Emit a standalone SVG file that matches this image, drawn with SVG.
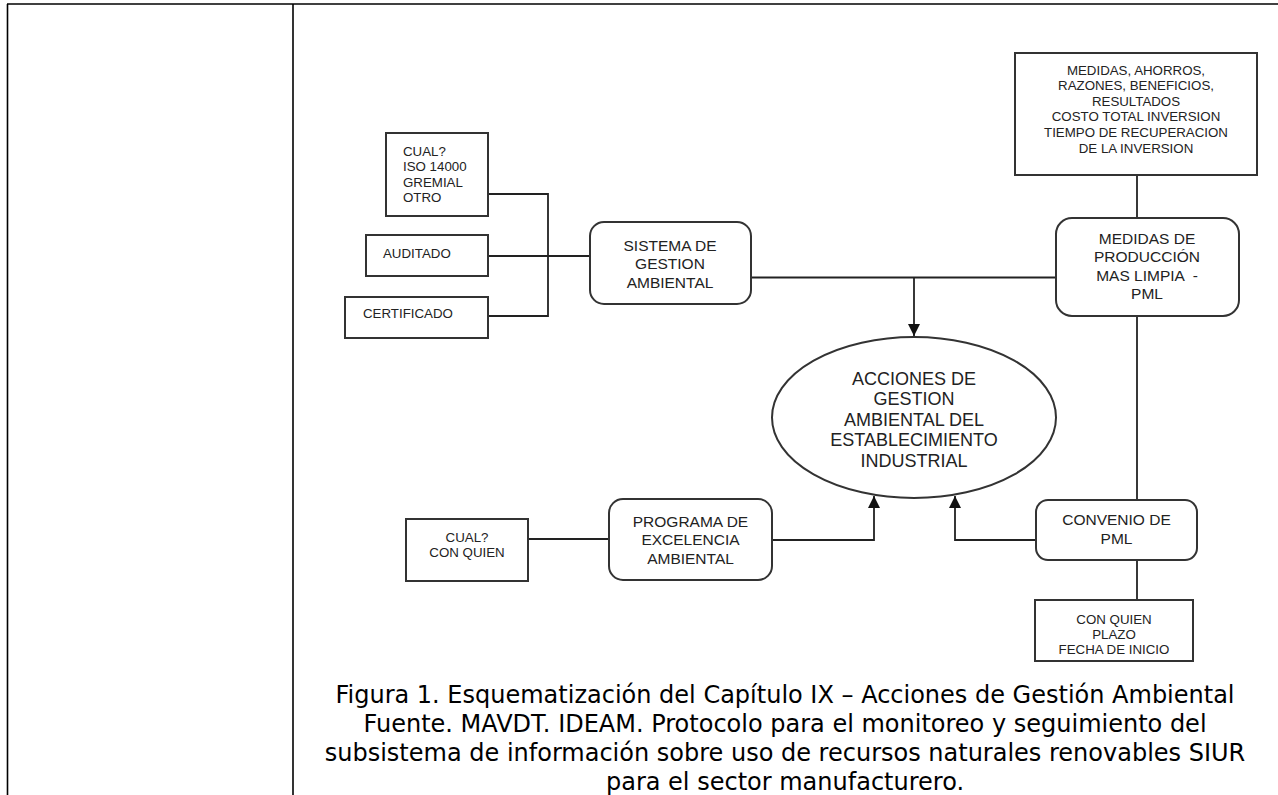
<svg xmlns="http://www.w3.org/2000/svg" width="1278" height="795" viewBox="0 0 1278 795">
<defs>
<marker id="arr" markerWidth="12" markerHeight="12" refX="12" refY="6" orient="auto" markerUnits="userSpaceOnUse">
<path d="M0,0 L12,6 L0,12 Z" fill="#111"/>
</marker>
<style>
.tbl{stroke:#000;stroke-width:1.6;fill:none}
.box{fill:#fff;stroke:#333;stroke-width:2}
.ln{fill:none;stroke:#222;stroke-width:1.8}
.s{font-family:"Liberation Sans",Arial,sans-serif;font-size:13.3px;fill:#222}
.m{font-family:"Liberation Sans",Arial,sans-serif;font-size:15.5px;fill:#222}
.l{font-family:"Liberation Sans",Arial,sans-serif;font-size:18px;fill:#222}
.c{text-anchor:middle}
.cap{font-family:"DejaVu Sans",Verdana,sans-serif;font-size:24px;fill:#000;text-anchor:middle}
</style>
</defs>
<rect width="1278" height="795" fill="#fff"/>
<g id="table">
<line class="tbl" x1="7" y1="4" x2="1278" y2="4"/>
<line class="tbl" x1="7.5" y1="4" x2="7.5" y2="795"/>
<line class="tbl" x1="293" y1="4" x2="293" y2="795"/>
</g>
<g id="connectors">
<polyline class="ln" points="488,194 548,194 548,316 488,316"/>
<line class="ln" x1="488" y1="256" x2="590" y2="256"/>
<line class="ln" x1="750" y1="277.5" x2="1057" y2="277.5"/>
<line class="ln" x1="914" y1="277.5" x2="914" y2="336" marker-end="url(#arr)"/>
<line class="ln" x1="1137" y1="175" x2="1137" y2="218"/>
<line class="ln" x1="1137" y1="316" x2="1137" y2="500"/>
<line class="ln" x1="1137" y1="560" x2="1137" y2="600"/>
<line class="ln" x1="528" y1="539" x2="609" y2="539"/>
<polyline class="ln" points="772,540 874,540 874,496" marker-end="url(#arr)"/>
<polyline class="ln" points="1036,540 955,540 955,496" marker-end="url(#arr)"/>
</g>
<g id="n-cual">
<rect class="box" x="386" y="133" width="102" height="83"/>
<text class="s" x="403" y="155.5">CUAL?</text>
<text class="s" x="403" y="171">ISO 14000</text>
<text class="s" x="403" y="186.5">GREMIAL</text>
<text class="s" x="403" y="202">OTRO</text>
</g>
<g id="n-auditado">
<rect class="box" x="366" y="235" width="122" height="41"/>
<text class="s" x="383" y="258">AUDITADO</text>
</g>
<g id="n-certificado">
<rect class="box" x="345" y="297" width="143" height="41"/>
<text class="s" x="363" y="318">CERTIFICADO</text>
</g>
<g id="n-sga">
<rect class="box" x="590" y="222" width="161" height="82" rx="14"/>
<text class="m c" x="670" y="250.5">SISTEMA DE</text>
<text class="m c" x="670" y="269">GESTION</text>
<text class="m c" x="670" y="287.5">AMBIENTAL</text>
</g>
<g id="n-resultados">
<rect class="box" x="1015" y="53" width="242" height="122"/>
<text class="s c" x="1136" y="75">MEDIDAS, AHORROS,</text>
<text class="s c" x="1136" y="90">RAZONES, BENEFICIOS,</text>
<text class="s c" x="1136" y="105.5">RESULTADOS</text>
<text class="s c" x="1136" y="121">COSTO TOTAL INVERSION</text>
<text class="s c" x="1136" y="136.5">TIEMPO DE RECUPERACION</text>
<text class="s c" x="1136" y="152.5">DE LA INVERSION</text>
</g>
<g id="n-pml">
<rect class="box" x="1056" y="218" width="183" height="98" rx="16"/>
<text class="m c" x="1147" y="243.5">MEDIDAS DE</text>
<text class="m c" x="1147" y="262">PRODUCCIÓN</text>
<text class="m c" x="1147" y="280.5" xml:space="preserve">MAS LIMPIA  -</text>
<text class="m c" x="1147" y="299">PML</text>
</g>
<g id="n-acciones">
<ellipse class="box" cx="914" cy="417.5" rx="142" ry="80.5"/>
<text class="l c" x="914" y="384.5">ACCIONES DE</text>
<text class="l c" x="914" y="405">GESTION</text>
<text class="l c" x="914" y="425.5">AMBIENTAL DEL</text>
<text class="l c" x="914" y="446">ESTABLECIMIENTO</text>
<text class="l c" x="914" y="467">INDUSTRIAL</text>
</g>
<g id="n-cualquien">
<rect class="box" x="406" y="519" width="122" height="62"/>
<text class="s c" x="467" y="542">CUAL?</text>
<text class="s c" x="467" y="557">CON QUIEN</text>
</g>
<g id="n-programa">
<rect class="box" x="609" y="499" width="163" height="81" rx="14"/>
<text class="m c" x="690.5" y="526.5">PROGRAMA DE</text>
<text class="m c" x="690.5" y="545">EXCELENCIA</text>
<text class="m c" x="690.5" y="563.5">AMBIENTAL</text>
</g>
<g id="n-convenio">
<rect class="box" x="1036" y="500" width="161" height="60" rx="12"/>
<text class="m c" x="1116.5" y="524.5">CONVENIO DE</text>
<text class="m c" x="1116.5" y="543.5">PML</text>
</g>
<g id="n-plazo">
<rect class="box" x="1035" y="600" width="158" height="61"/>
<text class="s c" x="1114" y="624">CON QUIEN</text>
<text class="s c" x="1114" y="638.5">PLAZO</text>
<text class="s c" x="1114" y="653.5">FECHA DE INICIO</text>
</g>
<g id="caption">
<text class="cap" x="785" y="703">Figura 1. Esquematización del Capítulo IX – Acciones de Gestión Ambiental</text>
<text class="cap" x="785" y="732">Fuente. MAVDT. IDEAM. Protocolo para el monitoreo y seguimiento del</text>
<text class="cap" x="785" y="761">subsistema de información sobre uso de recursos naturales renovables SIUR</text>
<text class="cap" x="785" y="790">para el sector manufacturero.</text>
</g>
</svg>
